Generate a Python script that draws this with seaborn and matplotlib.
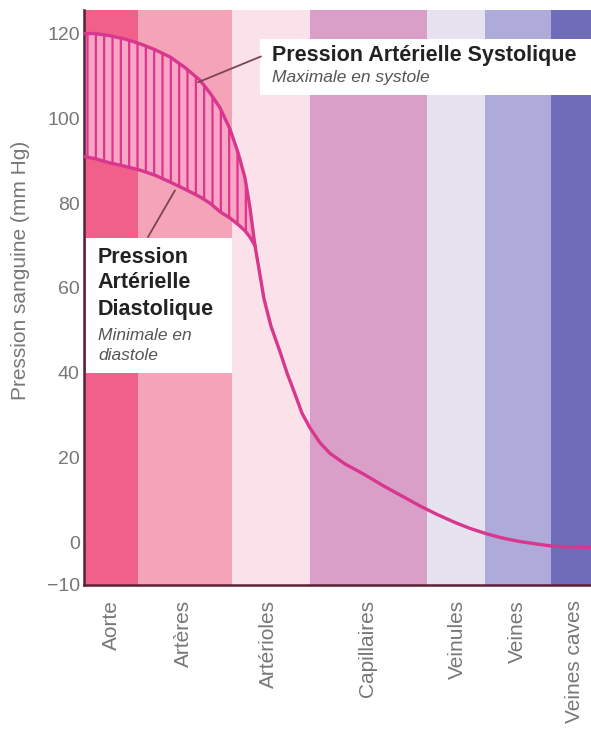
import numpy as np
import pandas as pd
import matplotlib.pyplot as plt
from matplotlib.patches import Rectangle
import seaborn as sns

# vaisseaux (bandes de couleur), bornes en unités de l'axe x
vaisseaux = ['Aorte', 'Artères', 'Artérioles', 'Capillaires', 'Veinules', 'Veines', 'Veines caves']
bornes = [0, 54, 148, 226, 343, 401, 467, 507]
couleurs = ['#f0608a', '#f5a3b8', '#fbe2ea', '#d99fc9', '#e6e2ef', '#aeaad9', '#6f6db9']
pos_labels = [28, 100, 185, 284, 373, 433, 491]

# fourche systole / diastole (x en unités de l'axe)
x_fourche = [0, 11, 26, 41, 56, 71, 86, 101, 116, 126, 136, 146, 154, 161, 166, 171]
systole = [120, 120, 119.5, 118.7, 117.6, 116.2, 114.5, 112, 109, 106, 102.5, 97.5, 92, 86, 79, 70]
diastole = [91, 90.5, 89.5, 88.7, 87.8, 86.6, 85, 83.3, 81.5, 80, 78, 76.5, 75, 73.5, 72, 70]

# pression unique après la fourche
x_suite = [171, 175, 180, 187, 196, 203, 211, 218, 226, 236, 246, 261, 279, 299, 319,
           336, 353, 371, 386, 403, 419, 436, 453, 469, 488, 507]
pression = [70, 64.5, 57.5, 51, 45, 40, 35, 30.5, 27, 23.5, 21, 18.5, 16.2, 13.4, 10.8,
            8.6, 6.6, 4.7, 3.3, 2.0, 1.0, 0.2, -0.4, -0.9, -1.1, -1.2]

yticks = [-10, 0, 20, 40, 60, 80, 100, 120]

sns.set_theme(style='white')
plt.rcParams['font.family'] = ['Liberation Sans', 'DejaVu Sans']

fig = plt.figure(figsize=(5.91, 7.31), dpi=100)
ax = fig.add_axes([0.142, 0.2, 0.858, 0.786])

for i in range(len(vaisseaux)):
    ax.axvspan(bornes[i], bornes[i + 1], color=couleurs[i], lw=0, zorder=0)

# cadres blancs des légendes
ax.add_patch(Rectangle((176, 105.6), 331, 13, facecolor='white', edgecolor='none', zorder=1))
ax.add_patch(Rectangle((2, 40), 146, 31.8, facecolor='white', edgecolor='none', zorder=1))

plt.rcParams['hatch.linewidth'] = 1.6
plt.rcParams['hatch.color'] = '#e0338c'
ax.fill_between(x_fourche, diastole, systole, facecolor='#f7a6c6', edgecolor='#e0338c',
                hatch='||', lw=0, zorder=2)

rose = '#d8378e'
sns.lineplot(x=x_fourche, y=systole, color=rose, lw=2.4, ax=ax, zorder=3)
sns.lineplot(x=x_fourche, y=diastole, color=rose, lw=2.4, ax=ax, zorder=3)
sns.lineplot(x=x_suite, y=pression, color=rose, lw=2.4, ax=ax, zorder=3)

# traits de rappel
ax.plot([114, 177], [108.5, 114.6], color='#7a4652', lw=1.3, zorder=4)
ax.plot([91, 64], [83, 72], color='#7a4652', lw=1.3, zorder=4)

ax.text(188, 114.8, 'Pression Artérielle Systolique', fontsize=15.5, fontweight='bold',
        color='#222222', va='center', zorder=5)
ax.text(188, 109.6, 'Maximale en systole', fontsize=12.5, style='italic',
        color='#555555', va='center', zorder=5)
for txt, yv in zip(['Pression', 'Artérielle', 'Diastolique'], [67.1, 61.2, 55.0]):
    ax.text(14, yv, txt, fontsize=15.5, fontweight='bold', color='#222222',
            va='center', zorder=5)
for txt, yv in zip(['Minimale en', 'diastole'], [48.7, 44.0]):
    ax.text(14, yv, txt, fontsize=12.5, style='italic', color='#555555',
            va='center', zorder=5)

ax.set_xlim(0, 507)
ax.set_ylim(-10, 125.5)
ax.set_yticks(yticks)
ax.set_yticklabels([str(v).replace('-', '−') for v in yticks], color='#777777', fontsize=14)
ax.set_xticks(pos_labels)
ax.set_xticklabels(vaisseaux, rotation=90, color='#777777', fontsize=15, va='top')
ax.tick_params(axis='y', length=0, pad=3)
ax.tick_params(axis='x', length=0, pad=11)
ax.set_xlabel('')
ax.set_ylabel('Pression sanguine (mm Hg)', color='#777777', fontsize=15)
ax.yaxis.set_label_coords(-0.106, 0.548)

for s in ['top', 'right']:
    ax.spines[s].set_visible(False)
for s in ['left', 'bottom']:
    ax.spines[s].set_color('#5a2035')
    ax.spines[s].set_linewidth(1.8)

plt.savefig('out.png', dpi=100)
